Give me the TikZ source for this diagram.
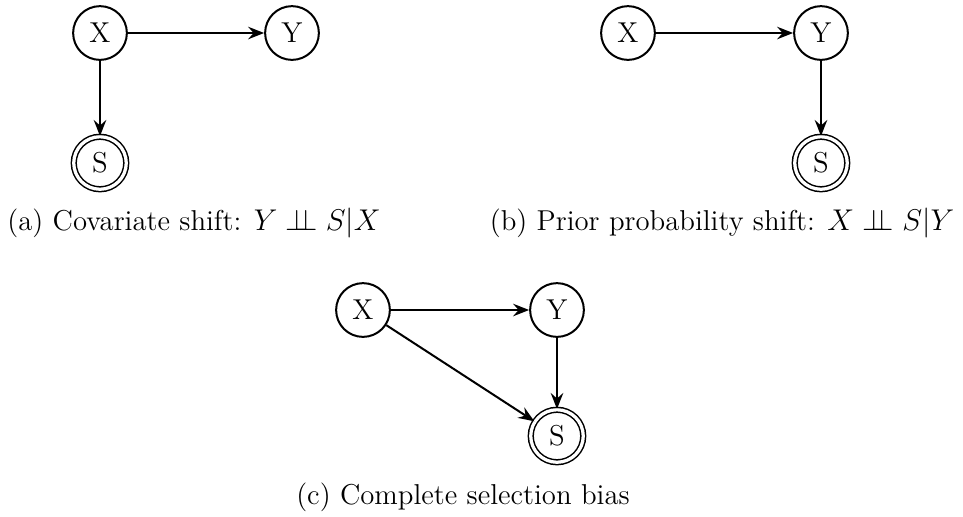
\documentclass[tikz,border=0pt]{standalone}
\usetikzlibrary{arrows.meta}
\newcommand{\myindep}{\mathrel{\perp\!\!\!\perp}}
\begin{document}
\begin{tikzpicture}[x=0.4pt,y=-0.4pt,
  font=\fontsize{11.5}{13.8}\selectfont,
  varnode/.style={circle,draw,line width=0.8pt,minimum size=21.5pt,inner sep=0pt},
  selnode/.style={circle,draw,double,line width=0.6pt,double distance=1.3pt,minimum size=21pt,inner sep=0pt},
  arr/.style={line width=0.8pt,-{Stealth[length=6.4pt,width=5pt,inset=2.2pt]}},
  captxt/.style={anchor=base,inner sep=0pt}]
\useasboundingbox (0,0) rectangle (963,516);
% (a)
\node[varnode] (ax) at (100,33) {X};
\node[varnode] (ay) at (292,33) {Y};
\node[selnode] (as) at (100,163) {S};
\draw[arr] (ax) -- (ay);
\draw[arr] (ax) -- (as);
\node[captxt] (acap) at (194,230) {(a) Covariate shift: $Y \myindep S|X$};
% (b)
\node[varnode] (bx) at (628,33) {X};
\node[varnode] (by) at (821,33) {Y};
\node[selnode] (bs) at (821,163) {S};
\draw[arr] (bx) -- (by);
\draw[arr] (by) -- (bs);
\node[captxt] (bcap) at (722,230) {(b) Prior probability shift: $X \myindep S|Y$};
% (c)
\node[varnode] (cx) at (363,310) {X};
\node[varnode] (cy) at (557,310) {Y};
\node[selnode] (cs) at (557,436) {S};
\draw[arr] (cx) -- (cy);
\draw[arr] (cy) -- (cs);
\draw[arr] (cx) -- (cs);
\node[captxt] (ccap) at (463,504) {(c) Complete selection bias};
\end{tikzpicture}
\end{document}
